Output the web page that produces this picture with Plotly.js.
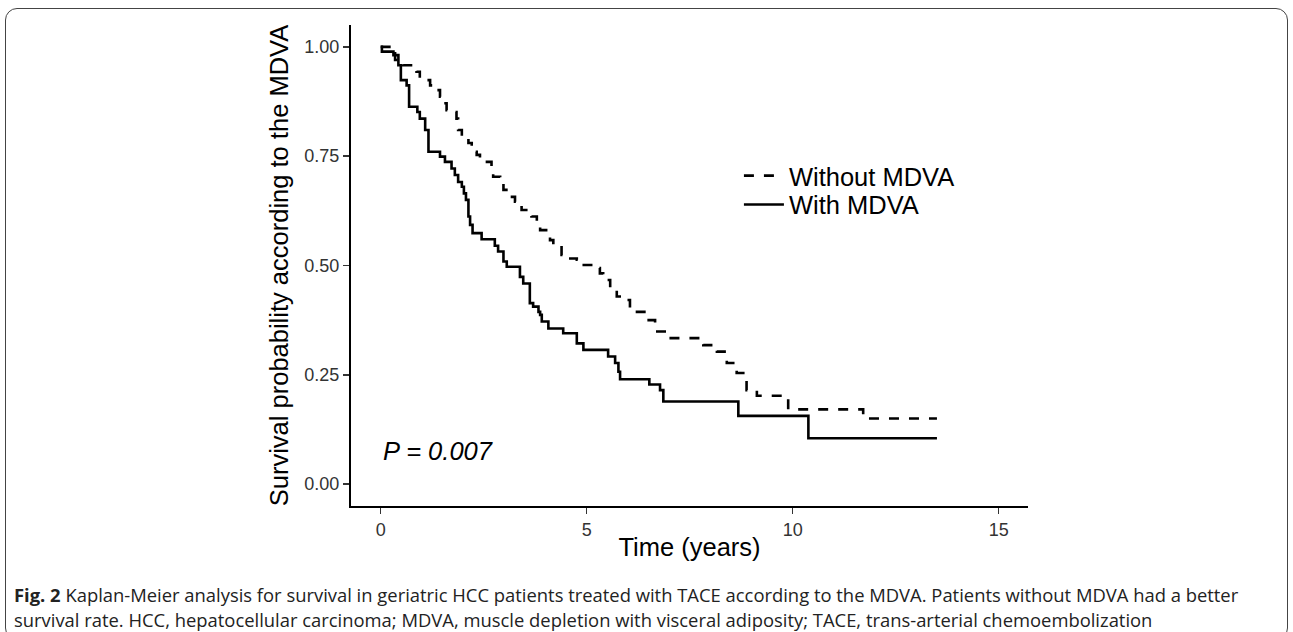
<!DOCTYPE html>
<html>
<head>
<meta charset="utf-8">
<script src="https://cdn.plot.ly/plotly-3.0.1.min.js"></script>
<style>
  html, body { margin: 0; padding: 0; background: #fff; }
  #wrap { position: relative; width: 1293px; height: 632px; overflow: hidden; }
  #chart { position: absolute; left: 0; top: 0; width: 1293px; height: 632px; }
  #frame { position: absolute; left: 5px; top: 8px; width: 1281px; height: 630px;
           border: 1.5px solid #444; border-radius: 12px; pointer-events: none; }
</style>
</head>
<body>
<div id="wrap">
  <div id="chart"></div>
  <div id="frame"></div>
</div>
<script>
// Without MDVA (dashed): event times (years) and survival after each step
const withoutTimes = [0, 0.27, 0.35, 0.55, 0.87, 0.95, 1.20, 1.32, 1.44, 1.52, 1.60, 1.80, 1.84, 1.88, 1.97, 2.13, 2.21, 2.33, 2.41, 2.69, 2.73, 2.90, 2.98, 3.14, 3.26, 3.42, 3.66, 3.79, 3.87, 4.11, 4.19, 4.39, 4.50, 4.76, 4.84, 5.16, 5.32, 5.40, 5.57, 5.73, 5.85, 6.05, 6.13, 6.46, 6.66, 6.98, 7.83, 8.16, 8.40, 8.64, 8.80, 8.88, 9.13, 9.89, 11.71, 13.5];
const withoutSurv  = [1.000, 0.985, 0.970, 0.958, 0.943, 0.924, 0.912, 0.901, 0.886, 0.871, 0.855, 0.851, 0.836, 0.810, 0.791, 0.780, 0.760, 0.753, 0.737, 0.718, 0.703, 0.688, 0.673, 0.657, 0.646, 0.627, 0.612, 0.600, 0.581, 0.558, 0.547, 0.524, 0.516, 0.513, 0.501, 0.494, 0.482, 0.467, 0.444, 0.429, 0.421, 0.402, 0.394, 0.375, 0.349, 0.334, 0.318, 0.303, 0.277, 0.254, 0.238, 0.215, 0.202, 0.171, 0.150, 0.150];

// With MDVA (solid)
const withTimes = [0, 0.03, 0.31, 0.43, 0.49, 0.63, 0.69, 0.89, 0.95, 1.08, 1.16, 1.44, 1.56, 1.72, 1.80, 1.88, 1.97, 2.02, 2.07, 2.13, 2.17, 2.23, 2.45, 2.77, 2.85, 2.98, 3.06, 3.38, 3.46, 3.62, 3.70, 3.83, 3.87, 3.91, 4.07, 4.43, 4.76, 4.92, 5.52, 5.69, 5.77, 5.81, 6.52, 6.78, 6.86, 8.68, 10.38, 13.5];
const withSurv  = [1.000, 0.989, 0.981, 0.958, 0.924, 0.912, 0.863, 0.851, 0.836, 0.810, 0.760, 0.749, 0.737, 0.722, 0.707, 0.691, 0.680, 0.665, 0.650, 0.612, 0.593, 0.574, 0.560, 0.545, 0.532, 0.509, 0.497, 0.474, 0.459, 0.414, 0.406, 0.394, 0.387, 0.372, 0.356, 0.345, 0.322, 0.307, 0.292, 0.277, 0.257, 0.240, 0.228, 0.215, 0.189, 0.156, 0.105, 0.105];

const seriesNames = ["Without MDVA", "With MDVA"];
const xTickVals = [0, 5, 10, 15];
const xTickText = ["0", "5", "10", "15"];
const yTickVals = [0, 0.25, 0.5, 0.75, 1];
const yTickText = ["0.00", "0.25", "0.50", "0.75", "1.00"];

const captionLine1 = "<b>Fig. 2</b> Kaplan-Meier analysis for survival in geriatric HCC patients treated with TACE according to the MDVA. Patients without MDVA had a better";
const captionLine2 = "survival rate. HCC, hepatocellular carcinoma; MDVA, muscle depletion with visceral adiposity; TACE, trans-arterial chemoembolization";

const chartFont = "Liberation Sans, Arial, Helvetica, sans-serif";
const bigSize = 25.5;
const captionSize = 18.4;

const traces = [
  {
    x: withoutTimes, y: withoutSurv, name: seriesNames[0], legend: "legend",
    type: "scatter", mode: "lines",
    line: { shape: "hv", color: "#000", width: 2.6, dash: "10px,10px" }
  },
  {
    x: withTimes, y: withSurv, name: seriesNames[1], legend: "legend2",
    type: "scatter", mode: "lines",
    line: { shape: "hv", color: "#000", width: 2.6 }
  }
];

const legendBase = {
  xanchor: "left", yanchor: "middle",
  font: { family: chartFont, size: bigSize, color: "#000" },
  bgcolor: "rgba(0,0,0,0)", itemwidth: 40
};

const layout = {
  width: 1293, height: 632,
  margin: { l: 351, r: 265, t: 25, b: 126, pad: 0 },
  paper_bgcolor: "#fff", plot_bgcolor: "#fff",
  font: { family: chartFont, color: "#000" },
  showlegend: true,
  legend: Object.assign({}, legendBase, { x: 0.573, y: 0.686 }),
  legend2: Object.assign({}, legendBase, { x: 0.573, y: 0.626 }),
  xaxis: {
    range: [-0.72, 15.71],
    tickmode: "array", tickvals: xTickVals, ticktext: xTickText,
    showgrid: false, zeroline: false,
    showline: true, linecolor: "#000", linewidth: 2,
    ticks: "outside", ticklen: 6, tickwidth: 1.5, tickcolor: "#333",
    tickfont: { family: chartFont, size: 18, color: "#333" },
    title: { text: "Time (years)", font: { family: chartFont, size: bigSize, color: "#000" }, standoff: 0 }
  },
  yaxis: {
    range: [-0.05, 1.05],
    tickmode: "array", tickvals: yTickVals, ticktext: yTickText,
    showgrid: false, zeroline: false,
    showline: true, linecolor: "#000", linewidth: 2,
    ticks: "outside", ticklen: 6, tickwidth: 1.5, tickcolor: "#333",
    tickfont: { family: chartFont, size: 18, color: "#333" },
    title: { text: "Survival probability according to the MDVA", font: { family: chartFont, size: bigSize, color: "#000" }, standoff: 8 }
  },
  annotations: [
    {
      x: 0, y: 0.076, xref: "x", yref: "y", xanchor: "left", yanchor: "middle",
      text: "<i>P = 0.007</i>", showarrow: false,
      font: { family: chartFont, size: bigSize, color: "#000" }
    },
    {
      x: -0.5007, y: -0.185, xref: "paper", yref: "paper", xanchor: "left", yanchor: "middle",
      text: captionLine1, showarrow: false, align: "left",
      font: { family: "Open Sans, sans-serif", size: captionSize, color: "#222" }
    },
    {
      x: -0.5007, y: -0.235, xref: "paper", yref: "paper", xanchor: "left", yanchor: "middle",
      text: captionLine2, showarrow: false, align: "left",
      font: { family: "Open Sans, sans-serif", size: captionSize, color: "#222" }
    }
  ]
};

Plotly.newPlot("chart", traces, layout, { staticPlot: true, displayModeBar: false });
</script>
</body>
</html>
